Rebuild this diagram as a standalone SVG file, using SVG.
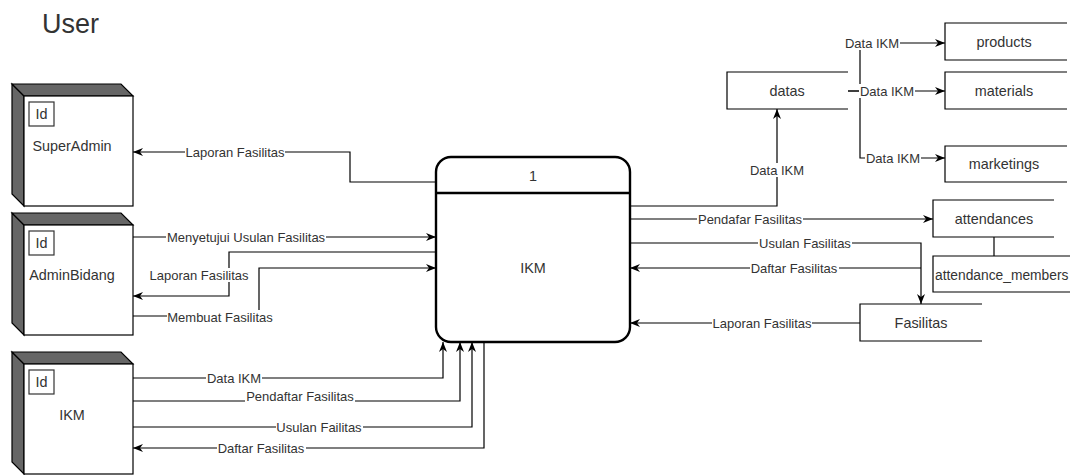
<svg xmlns="http://www.w3.org/2000/svg" width="1070" height="475" viewBox="0 0 1070 475">
<defs>
<marker id="arr" markerWidth="10" markerHeight="8" refX="10" refY="4" orient="auto" markerUnits="userSpaceOnUse"><path d="M0,0 L10,4 L0,8 L3,4 Z" fill="#000"/></marker>
</defs>
<style>
.t{font-family:"Liberation Sans",Arial,sans-serif;fill:#333;}
.n{font-size:14.4px;text-anchor:middle;dominant-baseline:central;}
.l{font-size:13px;text-anchor:middle;dominant-baseline:central;}
.side{fill:#666;stroke:#000;stroke-width:1.2;}
.front{fill:#fff;stroke:#000;stroke-width:1.2;}
.idb{fill:#fff;stroke:#333;stroke-width:1.2;}
.ds{fill:none;stroke:#000;stroke-width:1.2;}
.ds-bg{fill:#fff;}
.c{fill:none;stroke:#000;stroke-width:1.2;}
.ca{fill:none;stroke:#000;stroke-width:1.2;marker-end:url(#arr);}
.bg{fill:#fff;}
</style>
<rect width="1070" height="475" fill="#fff"/>
<text class="t" x="42" y="33" font-size="27" fill="#222">User</text>

<g id="connectors">
<path class="ca" d="M436,182 H350 V152 H133"/>
<path class="ca" d="M133,237 H436"/>
<path class="ca" d="M436,252 H229 V296 H133"/>
<path class="ca" d="M133,316 H259 V268 H436"/>
<path class="ca" d="M133,378 H443 V342"/>
<path class="ca" d="M133,401 H460 V342"/>
<path class="ca" d="M133,427 H472 V342"/>
<path class="ca" d="M484,342 V448 H133"/>
<path class="ca" d="M630,206 H777 V109"/>
<path class="ca" d="M848,91 H860 V43 H945"/>
<path class="ca" d="M848,91 H945"/>
<path class="ca" d="M860,91 V158 H945"/>
<path class="ca" d="M630,219 H933"/>
<path class="ca" d="M630,243 H921 V304"/>
<path class="ca" d="M921,268 H630"/>
<path class="ca" d="M860,323 H630"/>
<path class="c" d="M994,237 V256"/>

<g id="labels">
<rect class="bg" x="185" y="145" width="100" height="14"/><text class="t l" x="235" y="152">Laporan Fasilitas</text>
<rect class="bg" x="166" y="230" width="160" height="14"/><text class="t l" x="246" y="237">Menyetujui Usulan Fasilitas</text>
<rect class="bg" x="149" y="268" width="100" height="14"/><text class="t l" x="199" y="275">Laporan Fasilitas</text>
<rect class="bg" x="167" y="310" width="107" height="14"/><text class="t l" x="220" y="317">Membuat Fasilitas</text>
<rect class="bg" x="206" y="371" width="56" height="14"/><text class="t l" x="234" y="378">Data IKM</text>
<rect class="bg" x="245" y="389" width="110" height="14"/><text class="t l" x="300" y="396">Pendaftar Fasilitas</text>
<rect class="bg" x="276" y="420" width="87" height="14"/><text class="t l" x="319" y="427">Usulan Failitas</text>
<rect class="bg" x="217" y="441" width="89" height="14"/><text class="t l" x="261" y="448">Daftar Fasilitas</text>
<rect class="bg" x="749" y="163" width="56" height="14"/><text class="t l" x="777" y="170">Data IKM</text>
<rect class="bg" x="844" y="36" width="56" height="14"/><text class="t l" x="872" y="43">Data IKM</text>
<rect class="bg" x="859" y="84" width="56" height="14"/><text class="t l" x="887" y="91">Data IKM</text>
<rect class="bg" x="865" y="151" width="56" height="14"/><text class="t l" x="893" y="158">Data IKM</text>
<rect class="bg" x="697" y="212" width="106" height="14"/><text class="t l" x="750" y="219">Pendafar Fasilitas</text>
<rect class="bg" x="758" y="236" width="94" height="14"/><text class="t l" x="805" y="243">Usulan Fasilitas</text>
<rect class="bg" x="750" y="261" width="89" height="14"/><text class="t l" x="794" y="268">Daftar Fasilitas</text>
<rect class="bg" x="712" y="316" width="100" height="14"/><text class="t l" x="762" y="323">Laporan Fasilitas</text>
</g>
</g>

<g id="superadmin">
<polygon class="side" points="12,84 24,96 24,206 12,194"/>
<polygon class="side" points="12,84 121,84 133,96 24,96"/>
<rect class="front" x="24" y="96" width="109" height="110"/>
<rect class="idb" x="29" y="102" width="25" height="24"/>
<text class="t n" x="41.5" y="114">Id</text>
<text class="t n" x="72" y="146">SuperAdmin</text>
</g>

<g id="adminbidang">
<polygon class="side" points="12,213 24,225 24,335 12,323"/>
<polygon class="side" points="12,213 121,213 133,225 24,225"/>
<rect class="front" x="24" y="225" width="109" height="110"/>
<rect class="idb" x="29" y="231" width="25" height="24"/>
<text class="t n" x="41.5" y="243">Id</text>
<text class="t n" x="72" y="275">AdminBidang</text>
</g>

<g id="ikm-user">
<polygon class="side" points="12,352 24,364 24,474 12,462"/>
<polygon class="side" points="12,352 121,352 133,364 24,364"/>
<rect class="front" x="24" y="364" width="109" height="110"/>
<rect class="idb" x="29" y="370" width="25" height="24"/>
<text class="t n" x="41.5" y="382">Id</text>
<text class="t n" x="72" y="415">IKM</text>
</g>

<g id="process">
<rect x="436" y="157" width="194" height="185" rx="15" fill="#fff" stroke="#000" stroke-width="2.4"/>
<line x1="436" y1="193" x2="630" y2="193" stroke="#000" stroke-width="2.4"/>
<text class="t n" x="533" y="176">1</text>
<text class="t n" x="533" y="268">IKM</text>
</g>

<g id="datas">
<rect class="ds-bg" x="727" y="72" width="121" height="37"/>
<path class="ds" d="M848,72 H727 V109 H848"/>
<text class="t n" x="787" y="91">datas</text>
</g>
<g id="products">
<rect class="ds-bg" x="945" y="23" width="122" height="37"/>
<path class="ds" d="M1067,23 H945 V60 H1067"/>
<text class="t n" x="1004" y="42">products</text>
</g>
<g id="materials">
<rect class="ds-bg" x="945" y="72" width="122" height="37"/>
<path class="ds" d="M1067,72 H945 V109 H1067"/>
<text class="t n" x="1004" y="91">materials</text>
</g>
<g id="marketings">
<rect class="ds-bg" x="945" y="146" width="122" height="36"/>
<path class="ds" d="M1067,146 H945 V182 H1067"/>
<text class="t n" x="1004" y="164">marketings</text>
</g>
<g id="attendances">
<rect class="ds-bg" x="933" y="200" width="121" height="37"/>
<path class="ds" d="M1054,200 H933 V237 H1054"/>
<text class="t n" x="994" y="219">attendances</text>
</g>
<g id="attendance_members">
<rect class="ds-bg" x="933" y="256" width="137" height="36"/>
<path class="ds" d="M1070,256 H933 V292 H1070"/>
<text class="t" x="935" y="275" font-size="13.8" dominant-baseline="central">attendance_members</text>
</g>
<g id="fasilitas">
<rect class="ds-bg" x="860" y="304" width="122" height="37"/>
<path class="ds" d="M982,304 H860 V341 H982"/>
<text class="t n" x="921" y="323">Fasilitas</text>
</g>
</svg>
